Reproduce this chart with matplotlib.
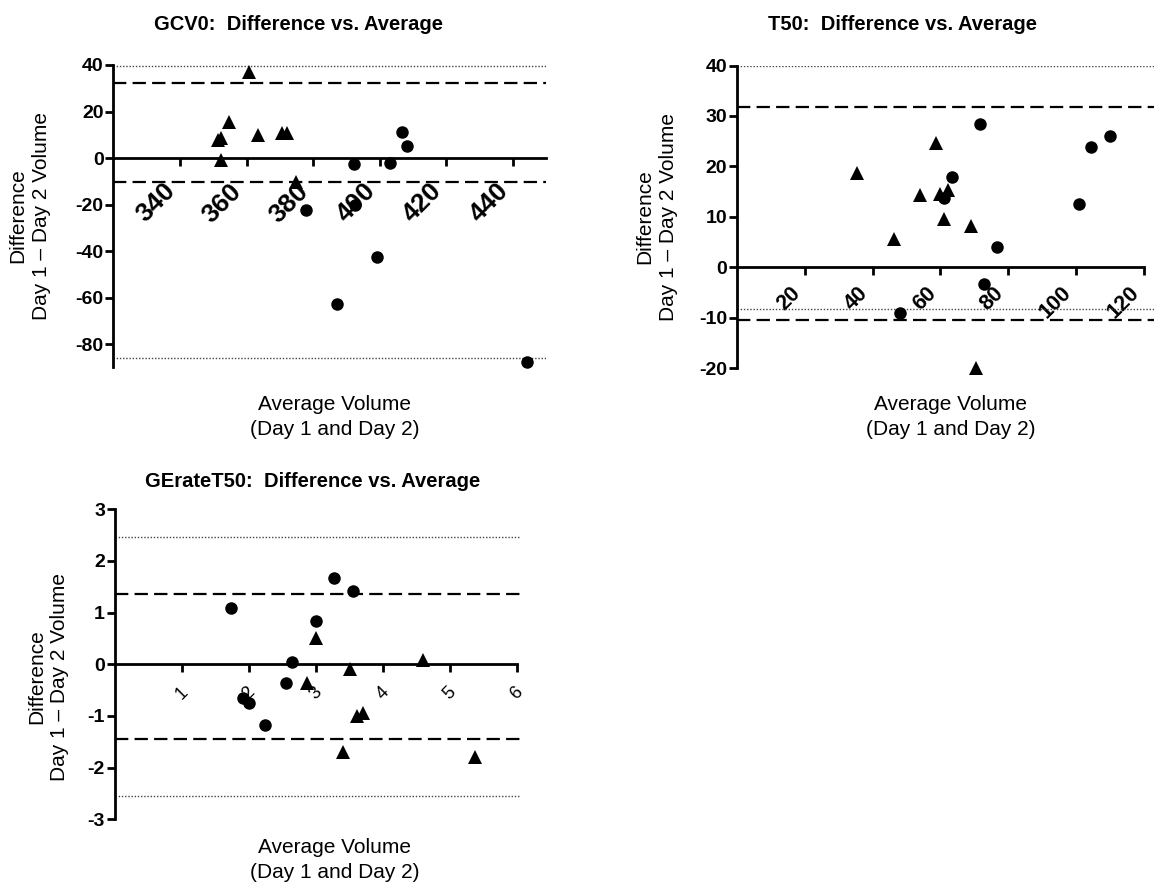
import matplotlib
matplotlib.use('Agg')
import matplotlib.pyplot as plt

plt.rcParams['font.family'] = ['Liberation Sans', 'DejaVu Sans']

W, H = 1160, 889

# ---------------- data ----------------
# GCV0
gcv0_tri_x = [351.4, 352.2, 352.4, 354.7, 360.7, 363.6, 370.8, 372.2, 375.0]
gcv0_tri_y = [7.6, 8.6, -0.7, 15.3, 37.0, 10.0, 10.75, 10.75, -10.1]
gcv0_circ_x = [378.0, 387.1, 392.3, 392.5, 399.3, 403.0, 406.8, 408.2, 444.2]
gcv0_circ_y = [-22.5, -62.7, -2.7, -20.0, -42.7, -2.1, 11.4, 5.3, -87.7]
gcv0_dashed = [32.3, -10.1]
gcv0_dotted = [39.6, -86.0]
gcv0_xticks = [340, 360, 380, 400, 420, 440]
gcv0_yticks = [-80, -60, -40, -20, 0, 20, 40]

# T50
t50_tri_x = [35.3, 46.2, 54.1, 58.8, 59.9, 62.3, 61.0, 69.0, 70.6]
t50_tri_y = [18.65, 5.6, 14.4, 24.7, 14.5, 15.35, 9.6, 8.1, -20.0]
t50_circ_x = [48.1, 61.2, 63.4, 71.6, 72.8, 76.8, 101.0, 104.3, 110.0]
t50_circ_y = [-9.1, 13.8, 18.0, 28.4, -3.3, 4.1, 12.6, 23.9, 26.0]
t50_dashed = [31.8, -10.5]
t50_dotted = [40.0, -8.3]
t50_xticks = [20, 40, 60, 80, 100, 120]
t50_yticks = [-20, -10, 0, 10, 20, 30, 40]

# GErateT50
ger_circ_x = [1.73, 1.91, 2.01, 2.24, 2.55, 2.64, 3.01, 3.28, 3.55]
ger_circ_y = [1.09, -0.66, -0.75, -1.17, -0.37, 0.05, 0.84, 1.68, 1.42]
ger_tri_x = [2.87, 3.00, 3.41, 3.51, 3.61, 3.71, 4.60, 5.38]
ger_tri_y = [-0.36, 0.51, -1.70, -0.10, -1.0, -0.95, 0.08, -1.80]
ger_dashed = [1.37, -1.45]
ger_dotted = [2.46, -2.55]
ger_xticks = [1, 2, 3, 4, 5, 6]
ger_yticks = [-3, -2, -1, 0, 1, 2, 3]

titles = ["GCV0:  Difference vs. Average",
          "T50:  Difference vs. Average",
          "GErateT50:  Difference vs. Average"]
xlabel = "Average Volume\n(Day 1 and Day 2)"
ylabel = "Difference\nDay 1 \u2013 Day 2 Volume"

fig = plt.figure(figsize=(W / 100, H / 100), dpi=100)


def add_ax(left, right, top, bottom):
    return fig.add_axes([left / W, 1 - bottom / H, (right - left) / W, (bottom - top) / H])


def style(ax, xlim, ylim, xticks, yticks, xbounds, xfs, xpad, xrot_ha, xweight):
    ax.set_xlim(*xlim)
    ax.set_ylim(*ylim)
    for s in ['top', 'right']:
        ax.spines[s].set_visible(False)
    ax.spines['bottom'].set_position(('data', 0))
    ax.spines['bottom'].set_bounds(*xbounds)
    for s in ['left', 'bottom']:
        ax.spines[s].set_linewidth(2.0)
    ax.tick_params(direction='out', length=6, width=2.0, color='black')
    ax.tick_params(axis='y', pad=1)
    ax.tick_params(axis='x', pad=xpad)
    ax.set_yticks(yticks)
    ax.set_yticklabels([str(v) for v in yticks], fontsize=14, fontweight='bold')
    ax.set_xticks(xticks)
    ax.set_xticklabels([str(v) for v in xticks], fontsize=xfs, fontweight=xweight,
                       rotation=45, ha=xrot_ha)
    ax.patch.set_visible(False)


def lines(ax, dashed, dotted):
    for y in dashed:
        ax.axhline(y, color='black', lw=1.6, dashes=(6.0, 2.8), zorder=2)
    for y in dotted:
        ax.axhline(y, color='#444444', lw=1.0, dashes=(1, 1.3), zorder=2)


def points(ax, cx, cy, tx, ty):
    ax.plot(cx, cy, 'o', color='black', ms=9, mew=0, clip_on=False, zorder=4)
    ax.plot(tx, ty, '^', color='black', ms=9.5, mew=0, clip_on=False, zorder=4)


# Panel 1
ax1 = add_ax(113.3, 546.2, 65, 367.5)
lines(ax1, gcv0_dashed, gcv0_dotted)
points(ax1, gcv0_circ_x, gcv0_circ_y, gcv0_tri_x, gcv0_tri_y)
style(ax1, (320, 450), (-90, 40), gcv0_xticks, gcv0_yticks, (320, 450), 19, 9, 'right', 'bold')

# Panel 2
ax2 = add_ax(737, 1154, 65.5, 368.3)
lines(ax2, t50_dashed, t50_dotted)
points(ax2, t50_circ_x, t50_circ_y, t50_tri_x, t50_tri_y)
style(ax2, (0, 123), (-20, 40), t50_xticks, t50_yticks, (0, 120), 15.5, 5, 'right', 'bold')

# Panel 3
ax3 = add_ax(114.7, 520, 509.3, 819.3)
lines(ax3, ger_dashed, ger_dotted)
points(ax3, ger_circ_x, ger_circ_y, ger_tri_x, ger_tri_y)
style(ax3, (0, 6.05), (-3, 3), ger_xticks, ger_yticks, (0, 6), 13, 8, 'center', 'normal')


def ftext(x, y, s, **kw):
    fig.text(x / W, 1 - y / H, s, **kw)


# titles
ftext(299, 24, titles[0], ha='center', va='center', fontsize=14.5, fontweight='bold')
ftext(903, 24, titles[1], ha='center', va='center', fontsize=14.5, fontweight='bold')
ftext(313, 482, titles[2], ha='center', va='center', fontsize=14.5, fontweight='bold')

# x labels
for (x, y) in [(334.6, 417), (951, 417), (334.6, 860)]:
    ftext(x, y, xlabel, ha='center', va='center', fontsize=15, linespacing=1.4)

# y labels
for (x, y) in [(30, 216), (657, 217), (48, 677)]:
    ftext(x, y, ylabel, ha='center', va='center', fontsize=15, rotation=90,
          linespacing=1.3)

fig.savefig('out.png', dpi=100)
